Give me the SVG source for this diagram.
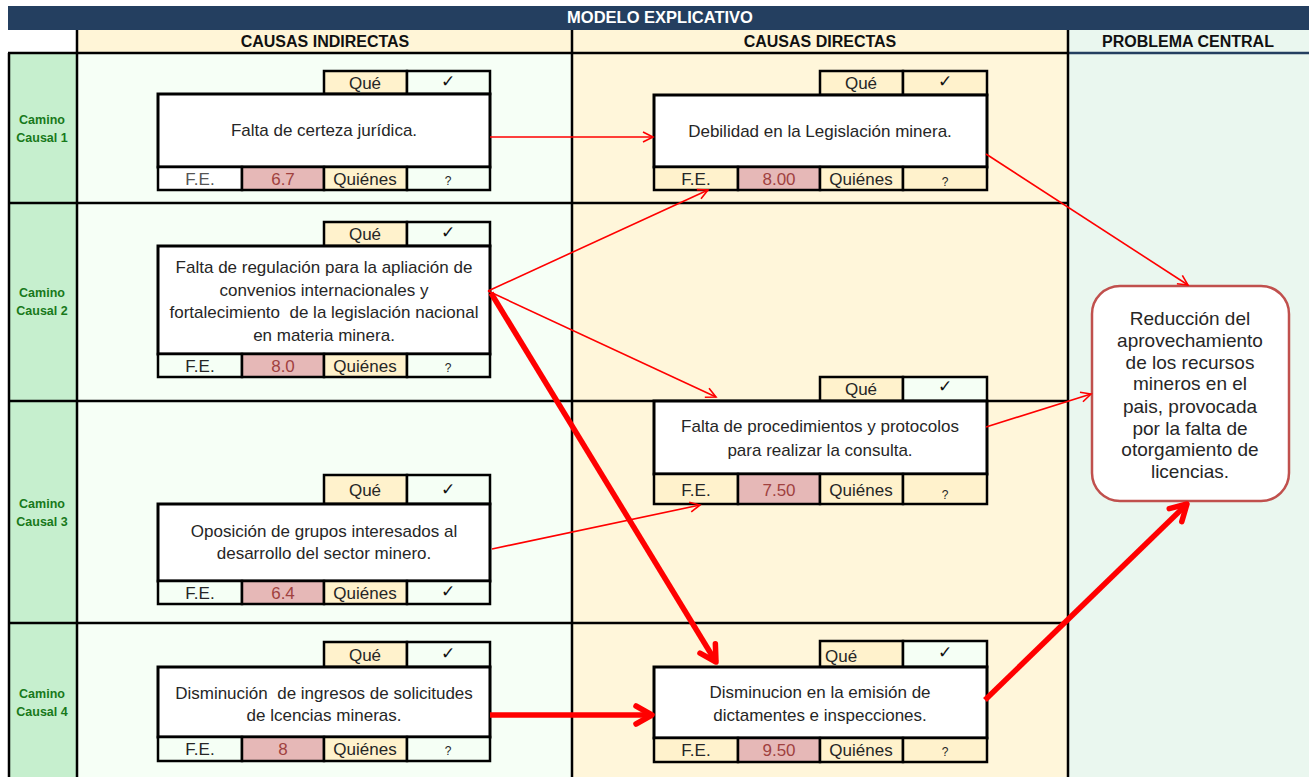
<svg xmlns="http://www.w3.org/2000/svg" width="1309" height="777" viewBox="0 0 1309 777">
<style>
.t{font-family:"Liberation Sans",Arial,sans-serif;font-size:17px;fill:#262626;text-anchor:middle}
.h{font-family:"Liberation Sans",Arial,sans-serif;font-weight:bold;font-size:16px;fill:#111;text-anchor:middle}
.cm{font-family:"Liberation Sans",Arial,sans-serif;font-weight:bold;font-size:12.5px;fill:#18791b;text-anchor:middle}
.pc{font-family:"Liberation Sans",Arial,sans-serif;font-size:19px;fill:#262626;text-anchor:middle}
.v{fill:#A0413F}
.fe{fill:#555}
.q{font-size:12px}
.ck{font-family:"DejaVu Sans",sans-serif;font-size:17px;fill:#111;text-anchor:middle}
.c{stroke:#000;stroke-width:2.5}
.que{fill:#FFF2CC}
.grn{fill:#F5FFF5}
.wht{fill:#FFFFFF}
.pink{fill:#E6B8B7}
.main{fill:#FFFFFF;stroke:#000;stroke-width:3}
.ln{stroke:#000;stroke-width:2.5;fill:none}
.thin{stroke:#FF0000;stroke-width:1.6;fill:none;marker-end:url(#ah)}
.thick{stroke:#FF0000;stroke-width:5.5;fill:none;marker-end:url(#ahb)}
</style>
<defs>
<marker id="ah" markerUnits="userSpaceOnUse" markerWidth="14" markerHeight="14" refX="11" refY="6" orient="auto" overflow="visible">
<path d="M1,1 L11,6 L1,11" fill="none" stroke="#FF0000" stroke-width="1.6"/>
</marker>
<marker id="ahb" markerUnits="userSpaceOnUse" markerWidth="26" markerHeight="26" refX="18" refY="11" orient="auto" overflow="visible">
<path d="M2,2 L18,11 L2,20" fill="none" stroke="#FF0000" stroke-width="5.5" stroke-linecap="round" stroke-linejoin="round"/>
</marker>
</defs>
<g id="background">
<rect x="0" y="0" width="1309" height="777" fill="#FFFFFF"/>
<rect x="8" y="6" width="1301" height="24" fill="#243F60"/>
<text x="660" y="23" class="h" style="fill:#fff;font-size:16.5px">MODELO EXPLICATIVO</text>
<rect x="8" y="30" width="69" height="23" fill="#FFFFFF"/>
<rect x="77" y="30" width="495" height="23" fill="#FFF5D7"/>
<rect x="572" y="30" width="496" height="23" fill="#FFF5D7"/>
<rect x="1068" y="30" width="241" height="23" fill="#EAF7EF"/>
<text x="325" y="47" class="h">CAUSAS INDIRECTAS</text>
<text x="820" y="47" class="h">CAUSAS DIRECTAS</text>
<text x="1188" y="47" class="h">PROBLEMA CENTRAL</text>
<rect x="8" y="53" width="69" height="724" fill="#C6EFCE"/>
<rect x="77" y="53" width="495" height="724" fill="#F6FFF6"/>
<rect x="572" y="53" width="496" height="724" fill="#FFF6DA"/>
<rect x="1068" y="53" width="241" height="724" fill="#EAF7EF"/>
<line x1="1068" y1="53" x2="1309" y2="53" stroke="#243F60" stroke-width="2.5"/>
<line x1="8" y1="53" x2="1068" y2="53" class="ln"/>
<line x1="8" y1="203" x2="1068" y2="203" class="ln"/>
<line x1="8" y1="401" x2="1068" y2="401" class="ln"/>
<line x1="8" y1="623" x2="1068" y2="623" class="ln"/>
<line x1="9" y1="53" x2="9" y2="777" class="ln"/>
<line x1="77" y1="30" x2="77" y2="777" class="ln"/>
<line x1="572" y1="30" x2="572" y2="777" class="ln"/>
<line x1="1068" y1="30" x2="1068" y2="777" class="ln"/>
<text x="42" y="124" class="cm">Camino</text><text x="42" y="142" class="cm">Causal 1</text>
<text x="42" y="297" class="cm">Camino</text><text x="42" y="315" class="cm">Causal 2</text>
<text x="42" y="508" class="cm">Camino</text><text x="42" y="526" class="cm">Causal 3</text>
<text x="42" y="698" class="cm">Camino</text><text x="42" y="716" class="cm">Causal 4</text>
</g>
<g id="n1">
<rect x="324" y="71" width="83" height="23" class="c que"/><rect x="407" y="71" width="83" height="23" class="c grn"/>
<text x="365" y="89" class="t">Qué</text><text x="448" y="87" class="ck">✓</text>
<rect x="158" y="94" width="332" height="73" class="main"/>
<text x="324" y="136" class="t">Falta de certeza jurídica.</text>
<rect x="158" y="167" width="84" height="23" class="c wht"/><rect x="242" y="167" width="82" height="23" class="c pink"/><rect x="324" y="167" width="83" height="23" class="c que"/><rect x="407" y="167" width="83" height="23" class="c grn"/>
<text x="200" y="185" class="t fe">F.E.</text><text x="283" y="185" class="t v">6.7</text><text x="365" y="185" class="t">Quiénes</text><text x="448" y="185" class="t q">?</text>
</g>
<g id="n2">
<rect x="324" y="222" width="83" height="24" class="c que"/><rect x="407" y="222" width="83" height="24" class="c grn"/>
<text x="365" y="240" class="t">Qué</text><text x="448" y="238" class="ck">✓</text>
<rect x="158" y="246" width="332" height="108" class="main"/>
<text x="324" y="273" class="t">Falta de regulación para la apliación de</text>
<text x="324" y="296" class="t">convenios internacionales y</text>
<text x="324" y="318" class="t" xml:space="preserve">fortalecimiento  de la legislación nacional</text>
<text x="324" y="341" class="t">en materia minera.</text>
<rect x="158" y="354" width="84" height="23" class="c grn"/><rect x="242" y="354" width="82" height="23" class="c pink"/><rect x="324" y="354" width="83" height="23" class="c que"/><rect x="407" y="354" width="83" height="23" class="c grn"/>
<text x="200" y="372" class="t">F.E.</text><text x="283" y="372" class="t v">8.0</text><text x="365" y="372" class="t">Quiénes</text><text x="448" y="372" class="t q">?</text>
</g>
<g id="n3">
<rect x="324" y="475" width="83" height="29" class="c que"/><rect x="407" y="475" width="83" height="29" class="c grn"/>
<text x="365" y="496" class="t">Qué</text><text x="448" y="495" class="ck">✓</text>
<rect x="158" y="504" width="332" height="77" class="main"/>
<text x="324" y="537" class="t">Oposición de grupos interesados al</text>
<text x="324" y="559" class="t">desarrollo del sector minero.</text>
<rect x="158" y="581" width="84" height="23" class="c grn"/><rect x="242" y="581" width="82" height="23" class="c pink"/><rect x="324" y="581" width="83" height="23" class="c que"/><rect x="407" y="581" width="83" height="23" class="c grn"/>
<text x="200" y="599" class="t">F.E.</text><text x="283" y="599" class="t v">6.4</text><text x="365" y="599" class="t">Quiénes</text><text x="448" y="597" class="ck">✓</text>
</g>
<g id="n4">
<rect x="324" y="642" width="83" height="25" class="c que"/><rect x="407" y="642" width="83" height="25" class="c grn"/>
<text x="365" y="661" class="t">Qué</text><text x="448" y="659" class="ck">✓</text>
<rect x="158" y="667" width="332" height="70" class="main"/>
<text x="324" y="699" class="t" xml:space="preserve">Disminución  de ingresos de solicitudes</text>
<text x="324" y="721" class="t">de lcencias mineras.</text>
<rect x="158" y="737" width="84" height="24" class="c grn"/><rect x="242" y="737" width="82" height="24" class="c pink"/><rect x="324" y="737" width="83" height="24" class="c que"/><rect x="407" y="737" width="83" height="24" class="c grn"/>
<text x="200" y="755" class="t">F.E.</text><text x="283" y="755" class="t v">8</text><text x="365" y="755" class="t">Quiénes</text><text x="448" y="755" class="t q">?</text>
</g>
<g id="d1">
<rect x="820" y="71" width="83" height="24" class="c que"/><rect x="903" y="71" width="84" height="24" class="c que"/>
<text x="861" y="89" class="t">Qué</text><text x="945" y="87" class="ck">✓</text>
<rect x="654" y="95" width="333" height="72" class="main"/>
<text x="820" y="137" class="t">Debilidad en la Legislación minera.</text>
<rect x="654" y="167" width="84" height="23" class="c que"/><rect x="738" y="167" width="82" height="23" class="c pink"/><rect x="820" y="167" width="83" height="23" class="c que"/><rect x="903" y="167" width="84" height="23" class="c que"/>
<text x="696" y="185" class="t">F.E.</text><text x="779" y="185" class="t v">8.00</text><text x="861" y="185" class="t">Quiénes</text><text x="945" y="186" class="t q">?</text>
</g>
<g id="d2">
<rect x="820" y="377" width="83" height="24" class="c que"/><rect x="903" y="377" width="84" height="24" class="c grn"/>
<text x="861" y="395" class="t">Qué</text><text x="945" y="392" class="ck">✓</text>
<rect x="654" y="401" width="333" height="73" class="main"/>
<text x="820" y="432" class="t">Falta de procedimientos y protocolos</text>
<text x="820" y="456" class="t">para realizar la consulta.</text>
<rect x="654" y="474" width="84" height="30" class="c que"/><rect x="738" y="474" width="82" height="30" class="c pink"/><rect x="820" y="474" width="83" height="30" class="c que"/><rect x="903" y="474" width="84" height="30" class="c que"/>
<text x="696" y="496" class="t">F.E.</text><text x="779" y="496" class="t v">7.50</text><text x="861" y="496" class="t">Quiénes</text><text x="945" y="499" class="t q">?</text>
</g>
<g id="d3">
<rect x="820" y="641" width="83" height="26" class="c que"/><rect x="903" y="641" width="84" height="26" class="c grn"/>
<text x="825" y="662" class="t" style="text-anchor:start">Qué</text><text x="945" y="658" class="ck">✓</text>
<rect x="654" y="667" width="333" height="71" class="main"/>
<text x="820" y="698" class="t">Disminucion en la emisión de</text>
<text x="820" y="721" class="t">dictamentes e inspecciones.</text>
<rect x="654" y="738" width="84" height="24" class="c que"/><rect x="738" y="738" width="82" height="24" class="c pink"/><rect x="820" y="738" width="83" height="24" class="c que"/><rect x="903" y="738" width="84" height="24" class="c que"/>
<text x="696" y="756" class="t">F.E.</text><text x="779" y="756" class="t v">9.50</text><text x="861" y="756" class="t">Quiénes</text><text x="945" y="756" class="t q">?</text>
</g>
<g id="problem">
<rect x="1092" y="286" width="197" height="215" rx="28" ry="28" fill="#FFFFFF" stroke="#C0504D" stroke-width="2.5"/>
<text x="1190" y="325" class="pc">Reducción del</text>
<text x="1190" y="347" class="pc">aprovechamiento</text>
<text x="1190" y="369" class="pc">de los recursos</text>
<text x="1190" y="390" class="pc">mineros en el</text>
<text x="1190" y="413" class="pc">pais, provocada</text>
<text x="1190" y="435" class="pc">por la falta de</text>
<text x="1190" y="456" class="pc">otorgamiento de</text>
<text x="1190" y="478" class="pc">licencias.</text>
</g>
<g id="connectors">
<line x1="490" y1="137" x2="653" y2="137" class="thin"/>
<line x1="488" y1="291" x2="708" y2="190" class="thin"/>
<line x1="488" y1="291" x2="716" y2="397" class="thin"/>
<line x1="492" y1="549" x2="700" y2="505" class="thin"/>
<line x1="986" y1="154" x2="1188" y2="285" class="thin"/>
<line x1="986" y1="427" x2="1091" y2="394" class="thin"/>
<line x1="491" y1="293" x2="716" y2="662" class="thick"/>
<line x1="490" y1="715" x2="652" y2="715" class="thick"/>
<line x1="985" y1="700" x2="1187" y2="504" class="thick"/>
</g>
</svg>
